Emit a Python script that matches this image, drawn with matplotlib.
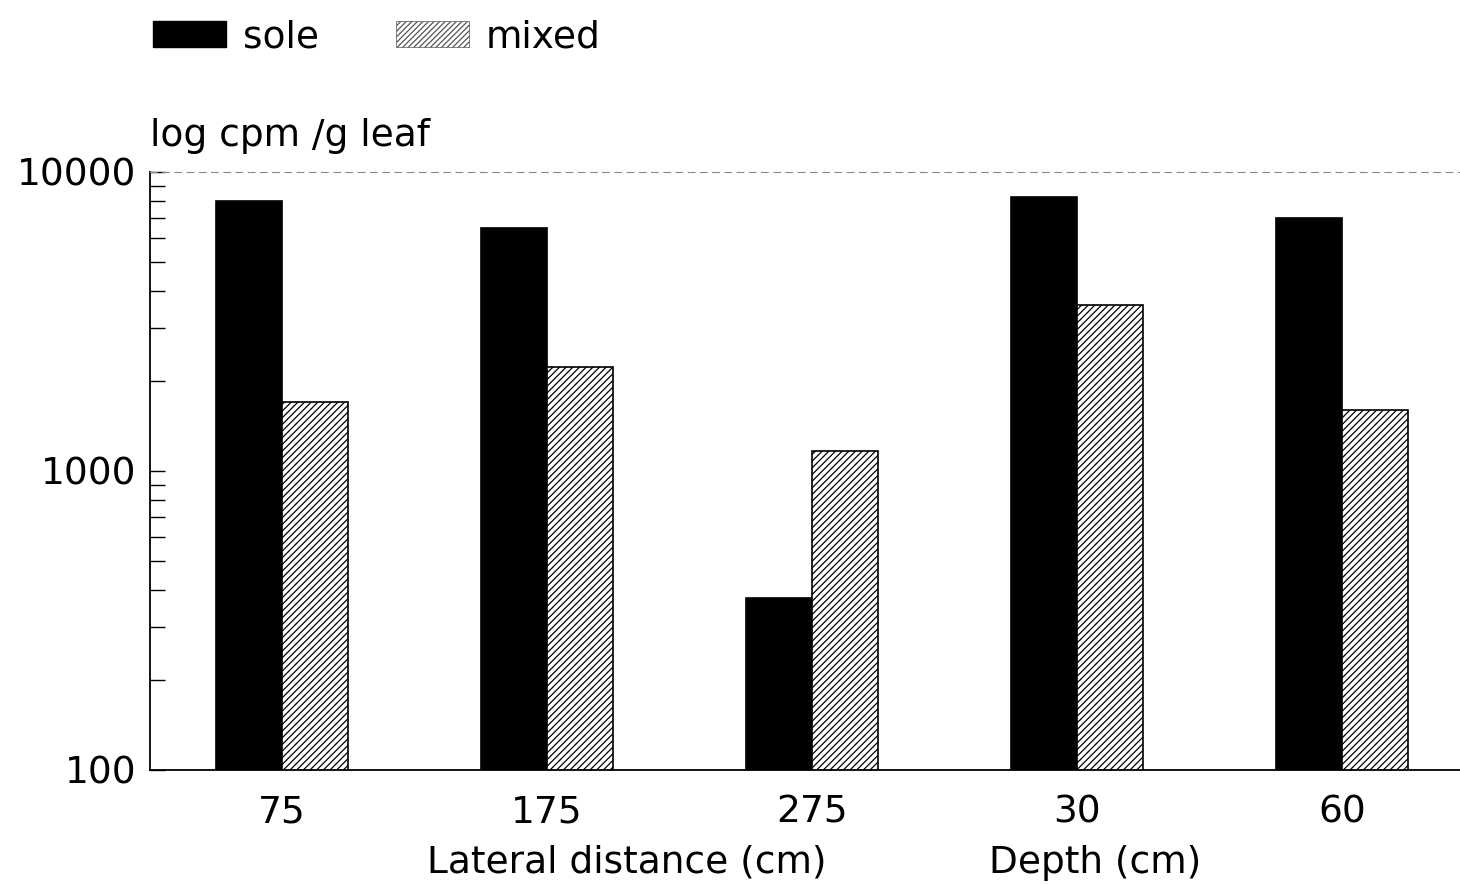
import numpy as np
import matplotlib
matplotlib.use("Agg")
import matplotlib.pyplot as plt
from matplotlib.patches import Patch

# cpm per g leaf, sole vs mixed cropping
groups = ["75", "175", "275", "30", "60"]
sole = [8000, 6500, 375, 8250, 7000]
mixed = [1700, 2230, 1170, 3600, 1600]

plt.rcParams["font.family"] = ["DejaVu Sans"]
plt.rcParams["hatch.linewidth"] = 0.9
fs = 27

fig = plt.figure(figsize=(14.6, 8.84), dpi=100)
ax = fig.add_axes([0.1027, 0.129, 0.8973, 0.6765])

x = np.arange(len(groups))
w = 0.25
ax.bar(x - w / 2, sole, w, color="black", edgecolor="black", linewidth=1.2)
ax.bar(x + w / 2, mixed, w, color="white", edgecolor="black", linewidth=1.2, hatch="/////")

ax.set_yscale("log")
ax.set_ylim(100, 10000)
ax.set_xlim(-0.498, 4.445)

ax.set_yticks([100, 1000, 10000])
ax.set_yticklabels(["100", "1000", "10000"])
ax.tick_params(axis="y", which="both", direction="in", length=11, width=1.0, labelsize=fs, pad=10)
ax.tick_params(axis="x", length=0, labelsize=fs, pad=18)
ax.set_xticks(x)
ax.set_xticklabels(groups)

ax.spines["right"].set_visible(False)
ax.spines["top"].set_linestyle((0, (6, 5)))
ax.spines["top"].set_color("#888888")
ax.spines["top"].set_linewidth(0.8)
ax.spines["left"].set_linewidth(1.3)
ax.spines["bottom"].set_linewidth(1.3)

ax.text(0, 1.03, "log cpm /g leaf", transform=ax.transAxes, fontsize=fs, ha="left", va="bottom")

# group captions under the tick labels
ax.text(1.30, -0.155, "Lateral distance (cm)", transform=ax.get_xaxis_transform(),
        fontsize=fs, ha="center", va="center")
ax.text(3.07, -0.155, "Depth (cm)", transform=ax.get_xaxis_transform(),
        fontsize=fs, ha="center", va="center")

handles = [Patch(facecolor="black", edgecolor="black"),
           Patch(facecolor="white", edgecolor="#555555", hatch="//////", linewidth=0.5)]
fig.legend(handles, ["sole", "mixed"], loc="upper left", bbox_to_anchor=(0.084, 1.012),
           ncol=2, frameon=False, fontsize=fs, handlelength=1.95, handleheight=0.7,
           handletextpad=0.45, columnspacing=2.05, borderpad=0.3)

fig.savefig("out.png", dpi=100)
